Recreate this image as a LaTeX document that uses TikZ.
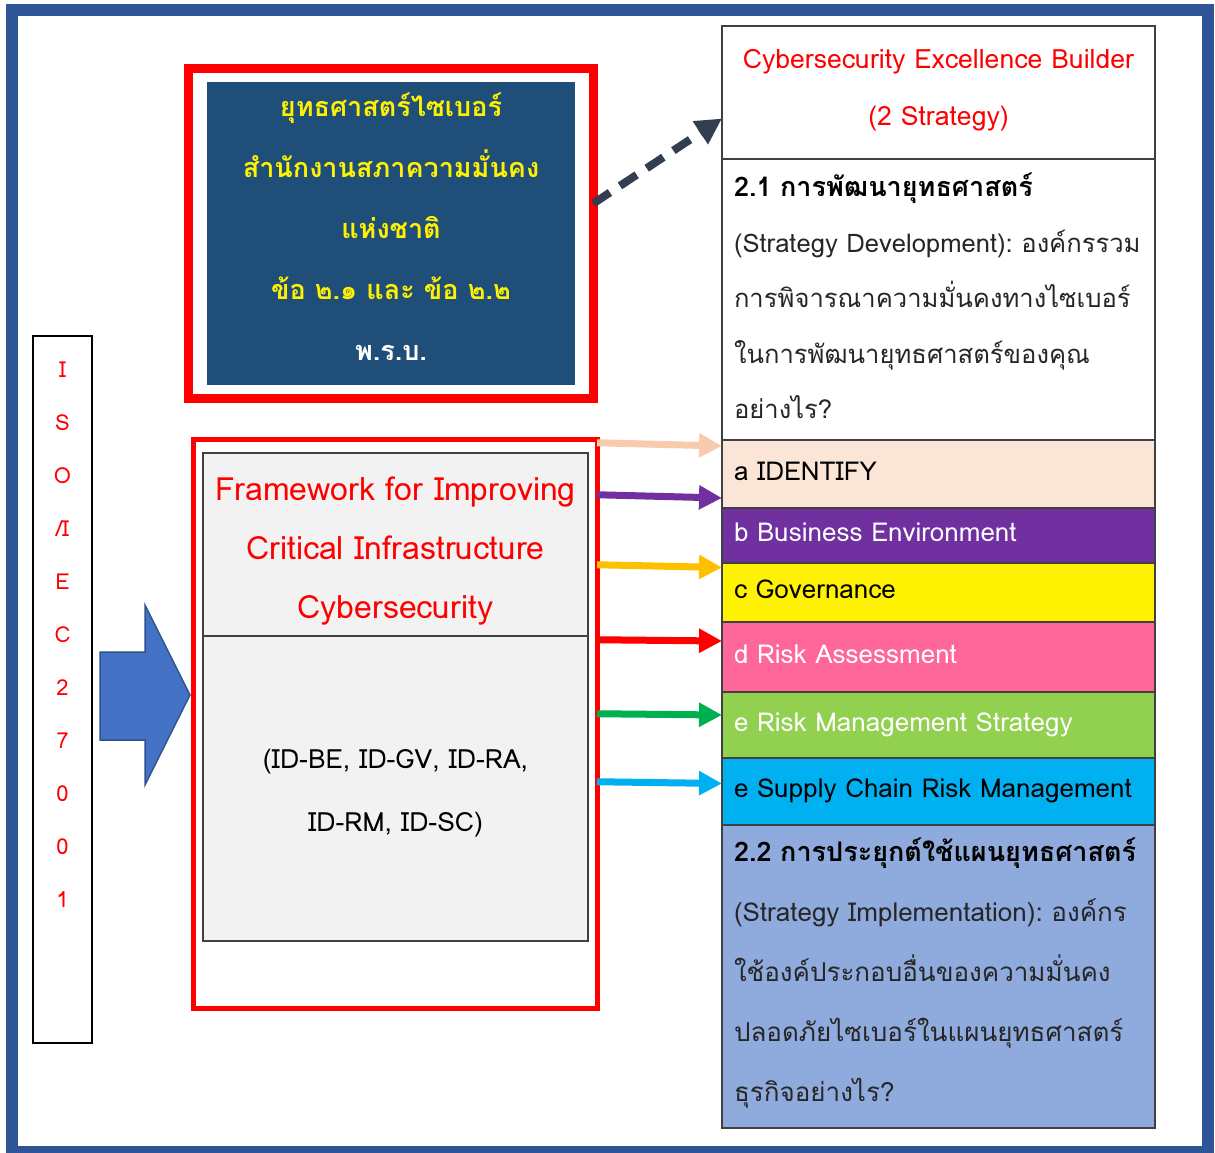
\documentclass[tikz,border=0pt]{standalone}
\usepackage{fontspec}
\setmainfont[Script=Thai]{Loma}
\frenchspacing
\usetikzlibrary{arrows.meta,positioning,calc}
\definecolor{framebl}{HTML}{2F5597}
\definecolor{boxline}{HTML}{404040}
\definecolor{navy}{HTML}{1F4E79}
\definecolor{dashcol}{HTML}{333F50}
\definecolor{peach}{HTML}{F8CBAD}
\definecolor{peachfill}{HTML}{FBE5D6}
\definecolor{purp}{HTML}{7030A0}
\definecolor{amber}{HTML}{FFC000}
\definecolor{pinkish}{HTML}{FF6699}
\definecolor{leaf}{HTML}{92D050}
\definecolor{grn}{HTML}{00B050}
\definecolor{sky}{HTML}{00B0F0}
\definecolor{steel}{HTML}{8FAADC}
\definecolor{lightgr}{HTML}{F2F2F2}
\definecolor{arrblue}{HTML}{4472C4}
\definecolor{arredge}{HTML}{2F528F}
\definecolor{bodytxt}{HTML}{262626}
% struts to move a text block inside its box
\newcommand{\topgap}[1]{\rule{0pt}{\dimexpr\fontcharht\font`(+#1\relax}}
\newcommand{\botgap}[1]{\rule[-#1]{0pt}{0pt}}
\begin{document}
\begin{tikzpicture}[x=1pt, y=-1pt,
  box/.style={draw=boxline, line width=1.5pt, inner sep=0pt, outer sep=0pt},
  rowbox/.style={box, minimum width=433pt, minimum height=#1, inner xsep=12pt,
    text width=409pt, align=left, font=\fontsize{26pt}{30pt}\selectfont},
  redframe/.style={draw=red, line width=#1, inner sep=0pt, outer sep=0pt},
  link/.style={draw=#1, line width=7pt, -{Triangle[length=23pt, width=23pt]}},
]
\useasboundingbox (0,0) rectangle (1215,1153);
\draw[framebl, line width=12pt] (12,10) rectangle (1208,1152);

% right column
\node[rowbox=133pt, anchor=north west, align=center, text=red,
  font=\fontsize{26.6pt}{57pt}\selectfont] (hdr) at (722,26)
  {Cybersecurity Excellence Builder\\(2 Strategy)\botgap{10pt}};
\node[rowbox=281pt, below=0pt of hdr, text=bodytxt,
  font=\fontsize{25.6pt}{55.5pt}\selectfont] (dev)
  {{\color{black}\fontsize{27pt}{30pt}\selectfont\bfseries 2.1 การพัฒนายุทธศาสตร์}\\
   \mbox{(Strategy Development): องค์กรรวม}\\
   การพิจารณาความมั่นคงทางไซเบอร์\\
   ในการพัฒนายุทธศาสตร์ของคุณ\\
   อย่างไร?\botgap{7pt}};
\node[rowbox=68pt, below=0pt of dev, fill=peachfill] (a) {a IDENTIFY\botgap{6pt}};
\node[rowbox=55pt, below=0pt of a, fill=purp, text=white] (b) {b Business Environment\botgap{6pt}};
\node[rowbox=59pt, below=0pt of b, fill=yellow] (c) {c Governance\botgap{6pt}};
\node[rowbox=70pt, below=0pt of c, fill=pinkish, text=white] (d) {d Risk Assessment\botgap{6pt}};
\node[rowbox=66pt, below=0pt of d, fill=leaf, text=white] (e) {e Risk Management Strategy\botgap{5pt}};
\node[rowbox=67pt, below=0pt of e, fill=sky] (f) {e Supply Chain Risk Management\botgap{7pt}};
\node[rowbox=303pt, below=0pt of f, fill=steel, text=bodytxt,
  font=\fontsize{26pt}{60pt}\selectfont] (impl)
  {{\color{black}\fontsize{27pt}{30pt}\selectfont\bfseries 2.2 การประยุกต์ใช้แผนยุทธศาสตร์}\\
   \mbox{(Strategy Implementation): องค์กร}\\
   ใช้องค์ประกอบอื่นของความมั่นคง\\
   ปลอดภัยไซเบอร์ในแผนยุทธศาสตร์\\
   ธุรกิจอย่างไร?\botgap{14pt}};

% law box
\node[redframe=9pt, minimum width=405pt, minimum height=329pt] (lawframe) at (390.75,233.5) {};
\node[fill=navy, minimum width=368pt, minimum height=303pt, inner sep=0pt, align=center,
  text=yellow, font=\fontsize{27pt}{61pt}\selectfont\bfseries] (law) at (391,233.5)
  {ยุทธศาสตร์ไซเบอร์\\สำนักงานสภาความมั่นคง\\แห่งชาติ\\ข้อ ๒.๑ และ ข้อ ๒.๒\\{\color{white}พ.ร.บ.}\botgap{14pt}};

% framework box
\node[redframe=5pt, minimum width=403.5pt, minimum height=568.5pt] (fwk) at (395.25,723.75) {};
\node[box, fill=lightgr, minimum width=385pt, minimum height=183pt, align=center, text=red,
  font=\fontsize{32pt}{59pt}\selectfont] (fwtitle) at (395.5,544.5)
  {\topgap{14pt}Framework for Improving\\Critical Infrastructure\\Cybersecurity};
\node[box, fill=lightgr, minimum width=385pt, minimum height=305pt, align=center,
  font=\fontsize{26.5pt}{63pt}\selectfont, below=0pt of fwtitle] (fwids)
  {\topgap{10pt}(ID-BE, ID-GV, ID-RA,\\ID-RM, ID-SC)};

% ISO column
\node[box, draw=black, minimum width=59pt, minimum height=707pt] (isobox) at (62.5,689.5) {};
\node[align=center, text=red, inner sep=0pt, font=\fontsize{22pt}{53pt}\selectfont,
  below=26pt of isobox.north] (iso)
  {I\\S\\O\\/I\\E\\C\\2\\7\\0\\0\\1};

\draw[fill=arrblue, draw=arredge, line width=1.5pt]
  (100,652) -- (145,652) -- (145,605) -- (190,695) -- (145,785) -- (145,740) -- (100,740) -- cycle;

% connectors
\draw[dashcol, line width=8pt, dash pattern=on 20pt off 12pt,
  -{Triangle[length=26pt, width=26pt]}] ([yshift=30pt]lawframe.east) -- ([yshift=-26pt]hdr.west);
\draw[link=peach] ([yshift=281pt]fwk.east) -- ([yshift=28pt]a.west);
\draw[link=purp] ([yshift=229pt]fwk.east) -- ([yshift=-24pt]a.west);
\draw[link=amber] ([yshift=159pt]fwk.east) -- ([yshift=25pt]c.west);
\draw[link=red] ([yshift=84pt]fwk.east) -- ([yshift=16pt]d.west);
\draw[link=grn] ([yshift=10pt]fwk.east) -- ([yshift=10pt]e.west);
\draw[link=sky] ([yshift=-58pt]fwk.east) -- ([yshift=8pt]f.west);
\end{tikzpicture}
\end{document}
